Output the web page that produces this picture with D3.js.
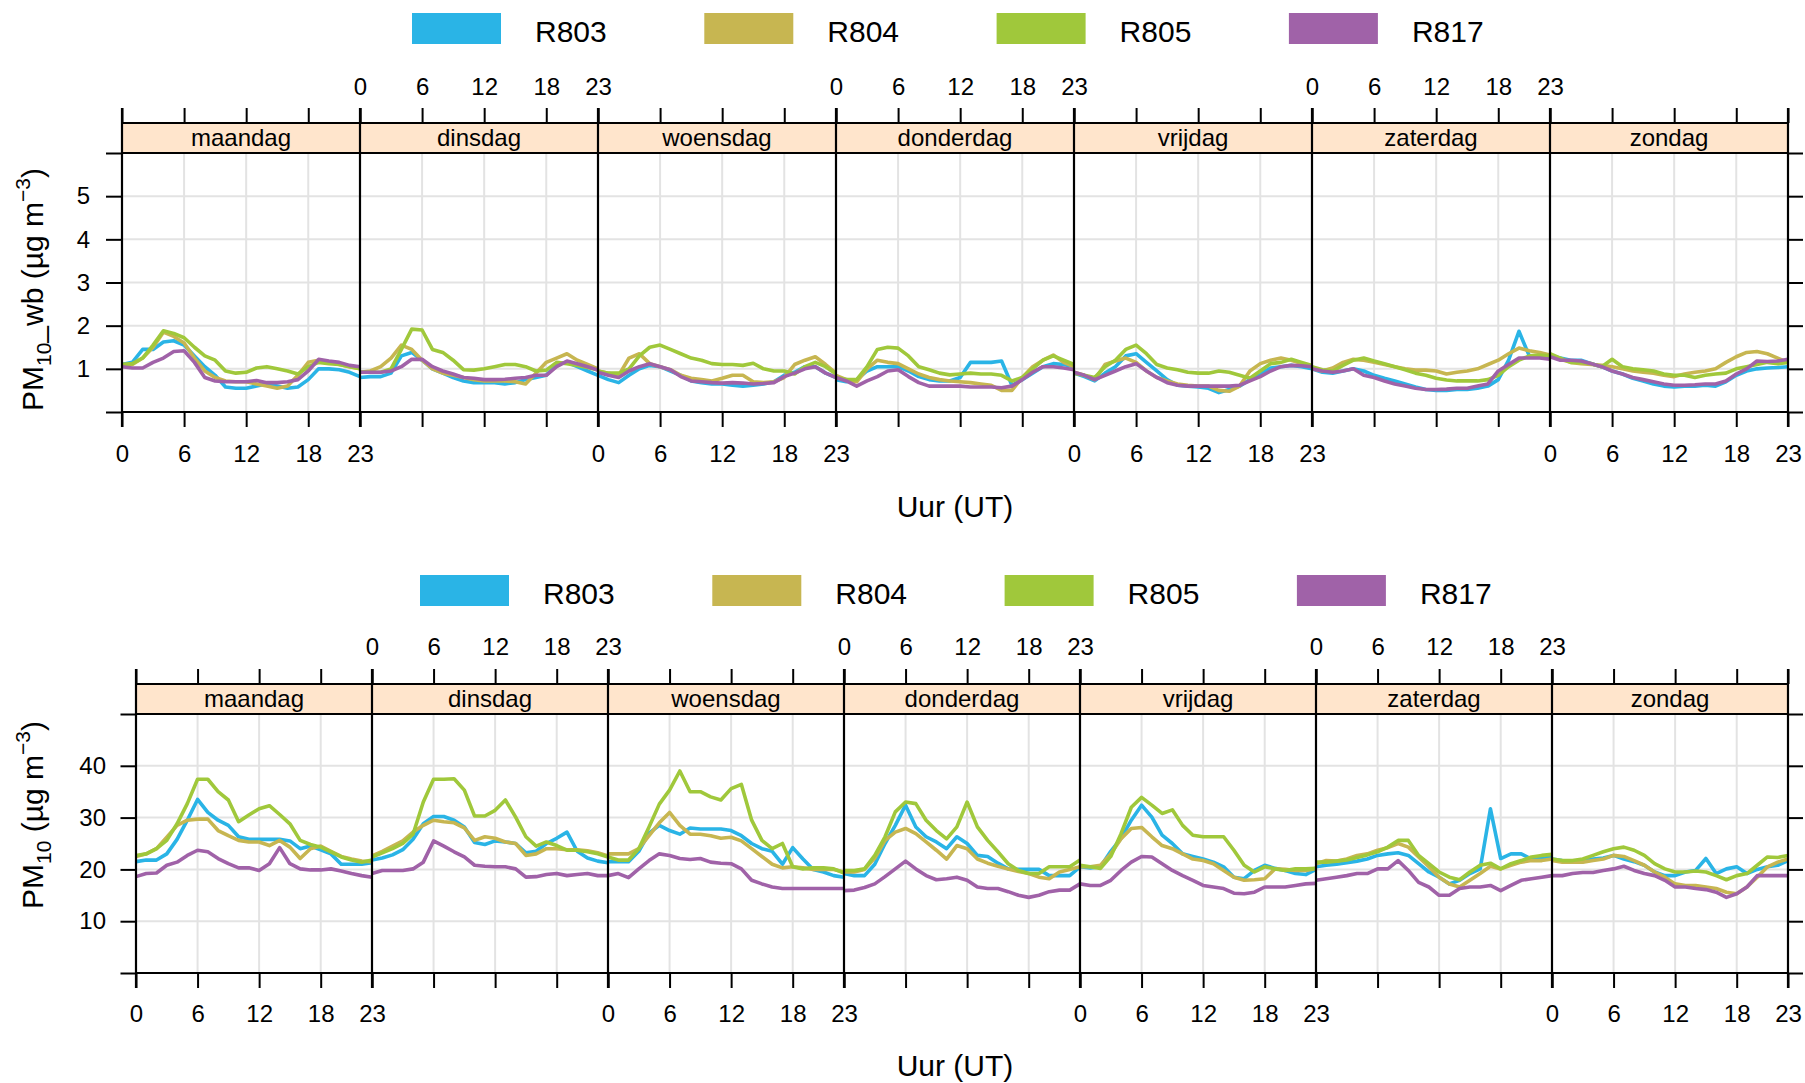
<!DOCTYPE html>
<html>
<head>
<meta charset="utf-8">
<script src="https://cdn.jsdelivr.net/npm/d3@7"></script>
<style>
  body { margin: 0; background: #fff; }
  svg { display: block; }
  text { font-family: "Liberation Sans", Arial, sans-serif; fill: #000; }
</style>
</head>
<body>
<svg id="chart" width="1805" height="1083"></svg>
<script>
// ---- categories, ticks, series ----
const days = ["maandag", "dinsdag", "woensdag", "donderdag", "vrijdag", "zaterdag", "zondag"];
const stations = ["R803", "R804", "R805", "R817"];
const stationColors = ["#2AB4E6", "#C7B651", "#A0C83B", "#A062A8"];
const hourTicks = [0, 6, 12, 18, 23];
const hourGrid = [6, 12, 18];
const wbTicks = [0, 1, 2, 3, 4, 5, 6];
const pmTicks = [0, 10, 20, 30, 40, 50];

// PM10_wb, hourly mean per weekday (maandag .. zondag), µg m-3
const wb_R803 = [
  [1.1,1.15,1.45,1.45,1.62,1.65,1.55,1.3,1.05,0.85,0.58,0.55,0.55,0.6,0.65,0.6,0.55,0.58,0.75,1.0,1.0,0.98,0.92,0.82],
  [0.8,0.82,0.82,0.9,1.3,1.38,1.2,1.0,0.9,0.8,0.72,0.68,0.68,0.68,0.65,0.68,0.75,0.8,0.85,1.1,1.15,1.05,0.95,0.85],
  [0.85,0.75,0.68,0.85,1.0,1.08,1.05,0.95,0.85,0.72,0.68,0.65,0.65,0.62,0.6,0.62,0.65,0.7,0.85,0.92,1.05,1.05,0.9,0.8],
  [0.75,0.7,0.75,0.95,1.05,1.05,1.05,0.95,0.82,0.75,0.72,0.72,0.8,1.15,1.15,1.15,1.18,0.62,0.75,0.9,1.05,1.12,1.1,1.05],
  [0.9,0.82,0.72,0.9,1.05,1.3,1.35,1.15,0.95,0.75,0.62,0.6,0.58,0.55,0.45,0.52,0.6,0.75,0.88,1.02,1.05,1.08,1.05,1.0],
  [1.0,0.92,0.9,0.95,1.0,0.95,0.85,0.78,0.72,0.65,0.58,0.52,0.5,0.5,0.52,0.52,0.55,0.6,0.75,1.2,1.87,1.3,1.3,1.25],
  [1.3,1.25,1.2,1.2,1.12,1.05,0.95,0.88,0.78,0.72,0.65,0.6,0.58,0.6,0.6,0.62,0.6,0.7,0.85,0.95,1.0,1.02,1.03,1.05]
];
const wb_R804 = [
  [1.1,1.1,1.25,1.5,1.85,1.75,1.6,1.25,0.95,0.8,0.72,0.7,0.7,0.65,0.6,0.55,0.6,0.85,1.15,1.2,1.15,1.1,1.05,1.0],
  [0.92,0.95,1.05,1.25,1.55,1.45,1.2,1.0,0.9,0.85,0.8,0.75,0.72,0.72,0.72,0.7,0.65,0.9,1.15,1.25,1.35,1.2,1.1,1.0],
  [0.95,0.9,0.85,1.25,1.35,1.12,1.05,0.98,0.85,0.78,0.75,0.72,0.78,0.85,0.85,0.7,0.68,0.7,0.8,1.1,1.2,1.28,1.1,0.9],
  [0.85,0.75,0.7,1.0,1.2,1.15,1.12,1.0,0.88,0.8,0.75,0.72,0.7,0.68,0.65,0.62,0.5,0.5,0.8,1.05,1.2,1.32,1.15,1.05],
  [0.92,0.85,0.75,1.1,1.18,1.25,1.15,0.95,0.8,0.72,0.65,0.62,0.6,0.6,0.5,0.48,0.6,0.95,1.12,1.2,1.25,1.2,1.12,1.05],
  [1.0,0.95,1.02,1.15,1.22,1.2,1.15,1.1,1.05,1.0,0.97,0.97,0.95,0.88,0.92,0.95,1.0,1.1,1.2,1.35,1.48,1.42,1.38,1.32],
  [1.3,1.22,1.15,1.12,1.1,1.08,1.05,1.0,0.95,0.92,0.9,0.85,0.82,0.88,0.92,0.95,1.0,1.15,1.28,1.38,1.4,1.35,1.25,1.15]
];
const wb_R805 = [
  [1.1,1.12,1.25,1.55,1.88,1.82,1.72,1.5,1.3,1.2,0.95,0.9,0.92,1.02,1.05,1.0,0.95,0.88,1.05,1.15,1.12,1.1,1.05,1.0],
  [0.92,0.92,0.92,1.0,1.45,1.92,1.9,1.45,1.38,1.2,0.98,0.97,1.0,1.05,1.1,1.1,1.05,0.95,0.97,1.15,1.12,1.08,1.03,0.97],
  [0.95,0.9,0.9,1.0,1.3,1.5,1.55,1.45,1.35,1.25,1.2,1.12,1.1,1.1,1.08,1.13,1.0,0.95,0.95,0.88,1.05,1.15,1.05,0.88],
  [0.8,0.75,0.75,1.05,1.45,1.5,1.48,1.3,1.05,0.98,0.9,0.86,0.88,0.9,0.88,0.88,0.85,0.72,0.8,1.0,1.2,1.3,1.2,1.1],
  [0.9,0.85,0.8,1.05,1.2,1.45,1.55,1.35,1.1,1.02,0.98,0.92,0.9,0.9,0.95,0.92,0.85,0.78,0.95,1.12,1.15,1.22,1.15,1.08],
  [1.05,0.98,0.95,1.08,1.2,1.25,1.18,1.12,1.05,0.98,0.9,0.85,0.78,0.74,0.72,0.72,0.72,0.75,0.85,1.05,1.2,1.3,1.32,1.3],
  [1.35,1.25,1.15,1.15,1.12,1.05,1.22,1.05,1.0,0.98,0.95,0.88,0.85,0.85,0.8,0.85,0.88,0.9,1.0,1.05,1.1,1.15,1.12,1.15]
];
const wb_R817 = [
  [1.05,1.02,1.02,1.15,1.25,1.4,1.42,1.15,0.8,0.72,0.7,0.7,0.7,0.73,0.68,0.68,0.7,0.75,0.95,1.22,1.18,1.15,1.08,1.05],
  [0.92,0.92,0.92,0.95,1.05,1.22,1.22,1.05,0.95,0.88,0.8,0.78,0.75,0.75,0.76,0.78,0.8,0.85,0.85,1.05,1.18,1.12,1.05,0.97],
  [0.92,0.85,0.8,0.95,1.05,1.12,1.05,0.98,0.82,0.72,0.7,0.68,0.67,0.68,0.67,0.65,0.66,0.68,0.82,0.9,1.0,1.05,0.9,0.8],
  [0.8,0.72,0.6,0.72,0.82,0.95,0.98,0.82,0.68,0.6,0.6,0.6,0.6,0.58,0.58,0.58,0.56,0.6,0.75,0.92,1.05,1.05,1.02,0.98],
  [0.92,0.85,0.75,0.85,0.95,1.05,1.12,0.95,0.8,0.68,0.62,0.6,0.6,0.6,0.6,0.6,0.62,0.72,0.82,0.95,1.05,1.08,1.07,1.05],
  [1.0,0.95,0.92,0.95,1.0,0.85,0.8,0.72,0.65,0.6,0.55,0.52,0.52,0.53,0.55,0.55,0.6,0.65,0.95,1.1,1.25,1.25,1.25,1.22],
  [1.28,1.2,1.2,1.18,1.12,1.05,0.95,0.88,0.8,0.75,0.7,0.65,0.62,0.62,0.63,0.65,0.65,0.72,0.88,1.0,1.18,1.17,1.18,1.22]
];

// PM10, hourly mean per weekday (maandag .. zondag), µg m-3
const pm_R803 = [
  [21.5,21.8,21.8,23,25.8,29.5,33.5,31,29.5,28.5,26.3,25.8,25.8,25.8,25.8,25.5,24,24.5,23.8,23,21,21,21,21.3],
  [21.8,22.2,22.8,23.8,25.8,28.8,30.2,30.2,29.5,28.2,25.2,24.8,25.5,25.3,25,23.2,23.5,25,26,27.2,23.5,22.2,21.6,21.3],
  [21.5,21.5,21.5,23.5,27,28.5,27.5,26.8,28,27.8,27.8,27.8,27.5,26.5,25,24,23.5,21,24.2,22,20,19.5,18.8,18.5],
  [19.2,18.8,18.8,21,25,28.5,32.4,28.2,26.3,25.3,24,26.3,25,22.7,22.5,21.2,20.1,20,20,20,18.8,18.8,18.8,20.5],
  [20.5,20.3,20.5,23.5,26,29.5,32.4,30.1,26.6,25,23,22.5,22,21.4,20.5,18.5,18.2,19.8,20.8,20.2,19.8,19.2,19,20],
  [20.5,20.8,21,21.3,21.6,22,22.7,23,23.2,22.7,21.1,19.5,18.5,17.2,17.9,19.2,20.1,31.7,22.1,23,23,22,22.3,22.3],
  [22,21.7,21.5,21.7,22,22.2,22.7,22,21.5,20.8,19.5,18.8,18.8,19.5,19.8,22.1,19.2,20.1,20.5,19.2,20,20.5,20.8,21.7]
];
const pm_R804 = [
  [22.5,23,24,26.2,28.5,29.5,29.7,29.7,27.5,26.5,25.6,25.3,25.3,24.6,25.6,24.3,22.1,24,24.5,23.5,22.5,22,21.6,21.5],
  [22.6,23.5,24.5,25.5,27.2,28.5,29.5,29.2,29,28,25.6,26.3,26,25.3,25,22.7,23,24,24,23.8,23.8,23.6,23.2,22.6],
  [23,23,23,24,26.5,29,31,28.5,26.8,26.8,26.5,26,26.2,25.5,24,22.5,21,20.3,20.5,20.3,20,20,20,19.5],
  [19.5,19.5,20,22.2,25.6,27.2,27.9,26.9,25.3,23.7,22,24.6,24,22,21.2,20.6,20.1,19.6,19.2,18.5,18.2,19.5,20,20.5],
  [20.5,20.5,20.8,23,25.9,27.9,28.1,26.3,24.6,24,23,22,21.7,21.1,19.8,18.5,17.9,18,18.2,20.1,20,19.8,19.8,20.2],
  [21.1,21.7,21.6,22,22.7,23,23.7,24.2,25,24.3,22.4,20.5,18.5,17.2,16.6,17.9,19.2,20.6,20.1,20.8,21.4,21.7,21.7,22],
  [21.7,21.4,21.4,21.4,21.7,22,22.7,22.5,21.7,20.8,19.5,18.5,17.2,16.9,16.9,16.6,16.3,15.6,15.3,16.6,18.5,20.5,21.4,22]
];
const pm_R805 = [
  [22.7,23,24,25.6,28.8,32.7,37.4,37.4,35,33.4,29.2,30.5,31.7,32.3,30.6,28.8,25.6,24.8,24.3,23.4,22.4,21.8,21.4,21.8],
  [22.4,23.2,24,25,26.8,33,37.4,37.4,37.5,35.3,30.3,30.3,31.4,33.4,30.1,26.3,24.5,25.3,24.6,23.7,23.7,23.4,23,22.4],
  [22.4,21.8,21.8,24,28.2,32.6,35.3,39,35,35,34,33.4,35.6,36.4,29.5,25.6,24,25,20.5,20.1,20.3,20.3,20.1,19.3],
  [19.8,19.8,20.1,22.7,26.3,31.1,33,32.7,29.5,27.5,25.9,28.2,33,28.2,25.6,23.4,21.1,19.8,19.2,19.2,20.5,20.5,20.5,21.8],
  [20.8,20.5,20.2,22.5,26.9,32,33.9,32.4,30.8,31.5,28.5,26.6,26.3,26.3,26.3,23.7,20.8,19.5,20.5,20.1,19.8,20.1,20.1,20.2],
  [21.4,21.4,21.6,21.8,22.3,22.8,23.4,24.3,25.6,25.6,22.7,21.1,19.5,18.5,18,19.5,20.8,21.2,20.1,21.1,21.7,22.4,22.7,22.9],
  [22,21.7,21.7,22,22.7,23.4,24,24.3,23.7,22.7,21.1,20.1,19.5,19.5,19.7,19.5,18.8,18,18.8,19.2,20.8,22.4,22.3,22.7]
];
const pm_R817 = [
  [18.6,19.2,19.3,20.8,21.4,22.7,23.7,23.4,22.1,21.1,20.3,20.3,19.8,21.1,24.2,21.1,20.1,19.9,19.9,20.1,19.7,19.2,18.8,18.5],
  [19.2,19.8,19.8,19.8,20.1,21.4,25.5,24.5,23.4,22.4,20.8,20.6,20.5,20.5,20.1,18.5,18.6,19,19.2,18.8,19,19.2,18.8,18.8],
  [18.8,19.2,18.4,20.1,21.7,23,22.7,22.1,21.9,22.1,21.4,21.2,21.1,20.1,17.9,17.2,16.6,16.3,16.3,16.3,16.3,16.3,16.3,16.3],
  [15.9,16,16.5,17.2,18.6,20.1,21.6,20.1,18.8,18,18.2,18.5,17.9,16.6,16.3,16.3,15.7,15,14.6,15,15.7,16,16,17.2],
  [17.2,16.9,16.9,17.9,19.8,21.4,22.5,22.4,21.1,19.8,18.8,17.9,16.9,16.6,16.3,15.4,15.3,15.6,16.6,16.6,16.6,16.9,17.2,17.3],
  [17.9,18.2,18.5,18.8,19.2,19.2,20.1,20.1,21.7,19.8,17.5,16.6,15,15,16.3,16.6,16.6,16.9,15.9,16.9,17.9,18.2,18.5,18.8],
  [18.8,18.8,19.2,19.4,19.4,19.8,20.1,20.6,19.8,19.2,18.8,17.9,16.6,16.6,16.3,16.1,15.6,14.6,15.3,16.6,18.8,18.8,18.8,18.8]
];

const svg = d3.select("#chart");

// One lattice-style block: legend, 7 weekday panels with strips, alternating axes
function drawBlock(opt) {
  const g = svg.append("g");
  const pw = (opt.right - opt.left) / days.length;
  const y = d3.scaleLinear().domain(opt.yDomain).range([opt.panelBottom, opt.panelTop]);
  const xs = days.map((d, i) =>
    d3.scaleLinear().domain([0, 23]).range([opt.left + i * pw, opt.left + (i + 1) * pw]));

  // legend
  const leg = g.append("g").selectAll("g").data(stations).join("g")
    .attr("transform", (d, i) => `translate(${opt.legendX + i * opt.legendStep},${opt.legendTop})`);
  leg.append("rect").attr("width", 89).attr("height", 31)
    .attr("fill", (d, i) => stationColors[i]);
  leg.append("text").attr("x", 123).attr("y", 29).attr("font-size", 30).text(d => d);

  // grid
  const gy = opt.yTicks.filter(v => v > opt.yDomain[0] && v < opt.yDomain[1]);
  g.append("g").selectAll("line").data(gy).join("line")
    .attr("x1", opt.left).attr("x2", opt.right)
    .attr("y1", d => y(d)).attr("y2", d => y(d))
    .attr("stroke", "#e3e3e3").attr("stroke-width", 2);
  xs.forEach(x => {
    g.append("g").selectAll("line").data(hourGrid).join("line")
      .attr("x1", d => x(d)).attr("x2", d => x(d))
      .attr("y1", opt.panelTop).attr("y2", opt.panelBottom)
      .attr("stroke", "#e3e3e3").attr("stroke-width", 2);
  });

  // strips
  g.append("g").selectAll("rect").data(days).join("rect")
    .attr("x", (d, i) => xs[i](0)).attr("y", opt.stripTop)
    .attr("width", pw).attr("height", opt.panelTop - opt.stripTop)
    .attr("fill", "#FFE5CC");
  g.append("g").selectAll("text").data(days).join("text")
    .attr("x", (d, i) => xs[i](11.5)).attr("y", opt.panelTop - 7)
    .attr("text-anchor", "middle").attr("font-size", 24).text(d => d);

  // series
  const hours = d3.range(24);
  opt.series.forEach((s, si) => {
    s.forEach((vals, di) => {
      const line = d3.line().x((v, h) => xs[di](hours[h])).y(v => y(v));
      g.append("path").datum(vals).attr("d", line)
        .attr("fill", "none").attr("stroke", stationColors[si])
        .attr("stroke-width", 3.6).attr("stroke-linejoin", "round");
    });
  });

  // frame
  [opt.stripTop, opt.panelTop, opt.panelBottom].forEach(yy => {
    g.append("line").attr("x1", opt.left).attr("x2", opt.right)
      .attr("y1", yy).attr("y2", yy).attr("stroke", "#000").attr("stroke-width", 2);
  });

  const fmt = d3.format("d");
  const styleAxis = sel => {
    sel.attr("font-size", 24).attr("font-family", null).attr("color", "#000");
    sel.select(".domain").remove();
    sel.selectAll(".tick line").attr("stroke-width", 2);
  };

  // x axes: ticks on both sides, labels alternating top / bottom
  xs.forEach((x, i) => {
    g.append("g").attr("transform", `translate(0,${opt.stripTop})`)
      .call(d3.axisTop(x).tickValues(hourTicks).tickSize(15).tickSizeOuter(0)
        .tickPadding(opt.topPad).tickFormat(i % 2 === 1 ? fmt : () => ""))
      .call(styleAxis);
    g.append("g").attr("transform", `translate(0,${opt.panelBottom})`)
      .call(d3.axisBottom(x).tickValues(hourTicks).tickSize(15).tickSizeOuter(0)
        .tickPadding(opt.bottomPad).tickFormat(i % 2 === 0 ? fmt : () => ""))
      .call(styleAxis);
  });

  // y axes
  const yLabel = v => (v > opt.yDomain[0] && v < opt.yDomain[1]) ? fmt(v) : "";
  g.append("g").attr("transform", `translate(${opt.left},0)`)
    .call(d3.axisLeft(y).tickValues(opt.yTicks).tickSize(opt.leftTick).tickSizeOuter(0)
      .tickPadding(opt.leftPad).tickFormat(yLabel))
    .call(styleAxis);
  g.append("g").attr("transform", `translate(${opt.right},0)`)
    .call(d3.axisRight(y).tickValues(opt.yTicks).tickSize(15).tickSizeOuter(0)
      .tickFormat(() => ""))
    .call(styleAxis);

  // panel separators
  g.append("g").selectAll("line").data(d3.range(days.length + 1)).join("line")
    .attr("x1", i => opt.left + i * pw).attr("x2", i => opt.left + i * pw)
    .attr("y1", opt.stripTop - 15).attr("y2", opt.panelBottom + 15)
    .attr("stroke", "#000").attr("stroke-width", 2.2);

  // axis titles
  g.append("text").attr("x", opt.xTitleX).attr("y", opt.xTitleY)
    .attr("text-anchor", "middle").attr("font-size", 30).text("Uur (UT)");

  const yt = g.append("text")
    .attr("transform", `translate(43,${opt.yTitleStart}) rotate(-90)`)
    .attr("font-size", 30);
  yt.append("tspan").text("PM");
  yt.append("tspan").attr("font-size", 21).attr("dy", 8).text("10");
  yt.append("tspan").attr("dy", -8).text(opt.yTitleMid);
  yt.append("tspan").attr("font-size", 21).attr("dy", -13).text("\u22123");
  yt.append("tspan").attr("dy", 13).text(")");
}

drawBlock({
  series: [wb_R803, wb_R804, wb_R805, wb_R817],
  yDomain: [0, 6], yTicks: wbTicks,
  left: 122, right: 1788,
  legendX: 412, legendStep: 292.3, legendTop: 13,
  stripTop: 123, panelTop: 153, panelBottom: 412,
  topPad: 13, bottomPad: 18, leftTick: 16, leftPad: 16,
  xTitleX: 955, xTitleY: 517,
  yTitleStart: 411, yTitleMid: "_wb (\u00B5g m"
});

drawBlock({
  series: [pm_R803, pm_R804, pm_R805, pm_R817],
  yDomain: [0, 50], yTicks: pmTicks,
  left: 136, right: 1788,
  legendX: 420, legendStep: 292.3, legendTop: 575,
  stripTop: 684, panelTop: 714, panelBottom: 973,
  topPad: 14, bottomPad: 17, leftTick: 15.5, leftPad: 14.5,
  xTitleX: 955, xTitleY: 1076,
  yTitleStart: 909, yTitleMid: " (\u00B5g m"
});
</script>
</body>
</html>
